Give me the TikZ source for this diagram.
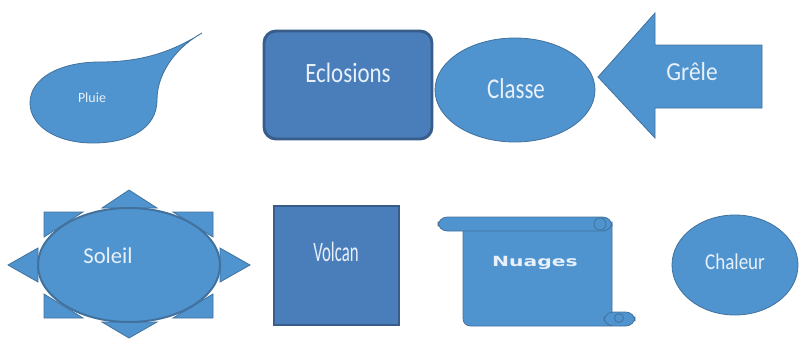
\documentclass[tikz,border=0pt]{standalone}
\usepackage{fontspec}
\setmainfont{Carlito}
\newfontfamily\fEcl[FakeStretch=0.82]{Carlito}
\newfontfamily\fCla[FakeStretch=0.8]{Carlito}
\newfontfamily\fGre[FakeStretch=0.9]{Carlito}
\newfontfamily\fVol[FakeStretch=0.6]{Carlito}
\newfontfamily\fCha[FakeStretch=0.84]{Carlito}
\newfontfamily\fNua[FakeStretch=1.45]{DejaVu Sans}
\definecolor{lblue}{RGB}{79,148,207}
\definecolor{dblue}{RGB}{74,126,187}
\definecolor{edge}{RGB}{65,113,156}
\definecolor{dedge}{RGB}{56,93,138}
\definecolor{txt}{RGB}{232,240,250}
\tikzset{
  lshape/.style={fill=lblue,draw=edge,line width=0.6pt},
  dshape/.style={fill=dblue,draw=dedge,line width=2.2pt},
  lbl/.style={text=txt,inner sep=0pt,anchor=center}
}
\begin{document}
\begin{tikzpicture}[x=0.75pt,y=-0.75pt]
\useasboundingbox (0,0) rectangle (799,340);
% Pluie (drop)
\path[lshape] (202,33) .. controls (180,45) and (157,70) .. (157,100)
  .. controls (157,128) and (130,143) .. (93,143)
  .. controls (55,143) and (30,125) .. (30,103)
  .. controls (30,78) and (60,62) .. (100,62)
  .. controls (145,62) and (175,50) .. (202,33) -- cycle;
\node[lbl,font=\fontsize{10.5}{12}\selectfont] (pluie) at (92,98) {Pluie};
% Eclosions
\path[dshape,rounded corners=9pt] (264,31) rectangle (432,139);
\node[lbl,font=\fEcl\fontsize{21}{24}\selectfont] (ecl) at (348,73) {Eclosions};
% Classe
\path[lshape] (515,90) ellipse [x radius=80, y radius=52];
\node[lbl,font=\fCla\fontsize{21.5}{24}\selectfont] (cla) at (516,89) {Classe};
% Grele arrow
\path[lshape] (598,77) -- (655,13) -- (655,45) -- (762,45) -- (762,108) -- (655,108) -- (655,138) -- cycle;
\node[lbl,font=\fGre\fontsize{19.5}{22}\selectfont] (gre) at (692,72) {Grêle};
% Soleil
\path[lshape] (129,190) -- (157,208) -- (102,208) -- cycle;
\path[lshape] (129,338) -- (157,322) -- (102,322) -- cycle;
\path[lshape] (8,265) -- (38,248) -- (38,282) -- cycle;
\path[lshape] (250,265) -- (220,248) -- (220,282) -- cycle;
\path[lshape] (44,212) -- (83,212) -- (44,237) -- cycle;
\path[lshape] (213,212) -- (173,212) -- (213,237) -- cycle;
\path[lshape] (44,318) -- (83,318) -- (44,294) -- cycle;
\path[lshape] (213,318) -- (173,318) -- (213,294) -- cycle;
\path[lshape,line width=1.5pt] (129,265) ellipse [x radius=91, y radius=57];
\node[lbl,font=\fontsize{17}{20}\selectfont] (sol) at (108,256) {Soleil};
% Volcan
\path[dshape] (274,206) rectangle (399,325);
\node[lbl,font=\fVol\fontsize{21}{24}\selectfont] (vol) at (336,252) {Volcan};
% Nuages scroll
\path[lshape] (463,224) -- (612,224) -- (612,326) -- (471,326)
  .. controls (466,326) and (463,323) .. (463,318) -- cycle;
\path[lshape,rounded corners=7pt] (438,217) rectangle (612,231);
\path[lshape] (600,224) circle[radius=6];
\path[lshape,rounded corners=7pt] (604,312) rectangle (635,326);
\path[lshape] (619,318) circle[radius=4.5];
\node[lbl,font=\fNua\bfseries\fontsize{10.5}{12}\selectfont] (nua) at (535,263) {Nuages};
% Chaleur
\path[lshape] (735,265) ellipse [x radius=63, y radius=50];
\node[lbl,font=\fCha\fontsize{17}{20}\selectfont] (cha) at (735,262) {Chaleur};
\end{tikzpicture}
\end{document}
